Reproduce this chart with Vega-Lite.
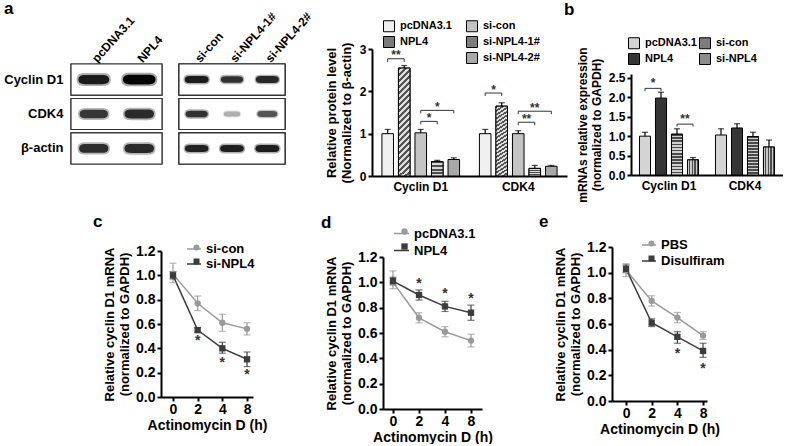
{
  "$schema": "https://vega.github.io/schema/vega-lite/v6.json",
  "background": "white",
  "padding": {"left": 3, "top": 0, "right": 0, "bottom": 0},
  "config": {
    "font": "Liberation Sans",
    "view": {"stroke": null},
    "axis": {"domainColor": "black", "domainWidth": 2, "tickColor": "black", "tickWidth": 2, "tickSize": 4, "labelFontWeight": "bold", "labelColor": "black", "titleFontWeight": "bold", "titleColor": "black", "grid": false, "labelFlush": false, "labelOverlap": false},
    "legend": {"labelFontWeight": "bold", "labelColor": "black"},
    "title": {"fontWeight": "bold", "color": "black", "fontSize": 17, "anchor": "start", "frame": "group", "baseline": "alphabetic"}
  },
  "spacing": 10,
  "resolve": {"scale": {"fill": "independent", "color": "independent", "size": "independent", "shape": "independent", "xOffset": "independent"}, "legend": {"fill": "independent", "color": "independent", "size": "independent", "shape": "independent"}},
  "vconcat": [
    {
      "bounds": "flush",
      "spacing": 0,
      "resolve": {"scale": {"fill": "independent", "color": "independent", "size": "independent", "shape": "independent", "xOffset": "independent"}, "legend": {"fill": "independent", "color": "independent", "size": "independent", "shape": "independent"}},
      "hconcat": [
        {
          "width": 91, "height": 115,
          "data": {"values": [
            {"protein": "Cyclin D1", "lane": "pcDNA3.1", "intensity": 0.82},
            {"protein": "Cyclin D1", "lane": "NPL4", "intensity": 1.0},
            {"protein": "CDK4", "lane": "pcDNA3.1", "intensity": 0.58},
            {"protein": "CDK4", "lane": "NPL4", "intensity": 0.68},
            {"protein": "β-actin", "lane": "pcDNA3.1", "intensity": 0.66},
            {"protein": "β-actin", "lane": "NPL4", "intensity": 0.68}
          ]},
          "encoding": {
            "y": {"field": "protein", "type": "nominal", "sort": ["Cyclin D1", "CDK4", "β-actin"], "scale": {"range": [15, 115], "paddingInner": 0.1, "paddingOuter": 0}, "axis": {"title": null, "domain": false, "ticks": false, "labelPadding": 8, "labelFontSize": 13}}
          },
          "layer": [
            {"mark": {"type": "rect", "fill": "white", "stroke": "#333333", "strokeWidth": 1.2}},
            {"mark": {"type": "point", "filled": true, "opacity": 0.35, "shape": "M-1,0 C-1,-0.3 -0.8,-0.38 -0.5,-0.38 L0.5,-0.38 C0.8,-0.38 1,-0.3 1,0 C1,0.3 0.8,0.38 0.5,0.38 L-0.5,0.38 C-0.8,0.38 -1,0.3 -1,0 Z"},
             "encoding": {
               "x": {"field": "lane", "type": "nominal", "sort": ["pcDNA3.1", "NPL4"], "scale": {"paddingInner": 0, "paddingOuter": 0}, "axis": {"orient": "top", "offset": -15, "title": null, "domain": false, "ticks": false, "labelAngle": -48, "labelAlign": "left", "labelBaseline": "middle", "labelPadding": 4, "labelFontSize": 12}},
               "size": {"field": "intensity", "type": "quantitative", "scale": {"domain": [0, 1], "range": [550, 1300]}, "legend": null},
               "color": {"field": "intensity", "type": "quantitative", "scale": {"type": "pow", "exponent": 0.5, "domain": [0, 1], "range": ["#e6e6e6", "#050505"]}, "legend": null}
             }},
            {"mark": {"type": "point", "filled": true, "opacity": 1, "shape": "M-0.9,0 C-0.9,-0.2 -0.75,-0.27 -0.5,-0.27 L0.5,-0.27 C0.75,-0.27 0.9,-0.2 0.9,0 C0.9,0.2 0.75,0.27 0.5,0.27 L-0.5,0.27 C-0.75,0.27 -0.9,0.2 -0.9,0 Z"},
             "encoding": {
               "x": {"field": "lane", "type": "nominal", "sort": ["pcDNA3.1", "NPL4"]},
               "size": {"field": "intensity", "type": "quantitative", "legend": null},
               "color": {"field": "intensity", "type": "quantitative", "legend": null}
             }}
          ]
        },
        {"width": 17, "height": 10, "data": {"values": [{}]}, "mark": {"type": "point", "opacity": 0}, "encoding": {}, "title": {"text": "a", "dx": -158, "offset": 31}},
        {
          "width": 106, "height": 115,
          "data": {"values": [
            {"protein": "Cyclin D1", "lane": "si-con", "intensity": 0.8},
            {"protein": "Cyclin D1", "lane": "si-NPL4-1#", "intensity": 0.62},
            {"protein": "Cyclin D1", "lane": "si-NPL4-2#", "intensity": 0.7},
            {"protein": "CDK4", "lane": "si-con", "intensity": 0.62},
            {"protein": "CDK4", "lane": "si-NPL4-1#", "intensity": 0.05},
            {"protein": "CDK4", "lane": "si-NPL4-2#", "intensity": 0.38},
            {"protein": "β-actin", "lane": "si-con", "intensity": 0.75},
            {"protein": "β-actin", "lane": "si-NPL4-1#", "intensity": 0.78},
            {"protein": "β-actin", "lane": "si-NPL4-2#", "intensity": 0.8}
          ]},
          "encoding": {
            "y": {"field": "protein", "type": "nominal", "sort": ["Cyclin D1", "CDK4", "β-actin"], "scale": {"range": [15, 115], "paddingInner": 0.1, "paddingOuter": 0}, "axis": null}
          },
          "layer": [
            {"mark": {"type": "rect", "fill": "white", "stroke": "#333333", "strokeWidth": 1.2}},
            {"mark": {"type": "point", "filled": true, "opacity": 0.35, "shape": "M-1,0 C-1,-0.3 -0.8,-0.38 -0.5,-0.38 L0.5,-0.38 C0.8,-0.38 1,-0.3 1,0 C1,0.3 0.8,0.38 0.5,0.38 L-0.5,0.38 C-0.8,0.38 -1,0.3 -1,0 Z"},
             "encoding": {
               "x": {"field": "lane", "type": "nominal", "sort": ["si-con", "si-NPL4-1#", "si-NPL4-2#"], "scale": {"paddingInner": 0, "paddingOuter": 0}, "axis": {"orient": "top", "offset": -15, "title": null, "domain": false, "ticks": false, "labelAngle": -48, "labelAlign": "left", "labelBaseline": "middle", "labelPadding": 4, "labelFontSize": 12}},
               "size": {"field": "intensity", "type": "quantitative", "scale": {"domain": [0, 1], "range": [300, 800]}, "legend": null},
               "color": {"field": "intensity", "type": "quantitative", "scale": {"type": "pow", "exponent": 0.5, "domain": [0, 1], "range": ["#e6e6e6", "#050505"]}, "legend": null}
             }},
            {"mark": {"type": "point", "filled": true, "opacity": 1, "shape": "M-0.9,0 C-0.9,-0.2 -0.75,-0.27 -0.5,-0.27 L0.5,-0.27 C0.75,-0.27 0.9,-0.2 0.9,0 C0.9,0.2 0.75,0.27 0.5,0.27 L-0.5,0.27 C-0.75,0.27 -0.9,0.2 -0.9,0 Z"},
             "encoding": {
               "x": {"field": "lane", "type": "nominal", "sort": ["si-con", "si-NPL4-1#", "si-NPL4-2#"]},
               "size": {"field": "intensity", "type": "quantitative", "legend": null},
               "color": {"field": "intensity", "type": "quantitative", "legend": null}
             }}
          ]
        },
        {"width": 87, "height": 10, "data": {"values": [{}]}, "mark": {"type": "point", "opacity": 0}, "encoding": {}},
        {
          "width": 195, "height": 127,
          "data": {"values": [
            {"protein": "Cyclin D1", "group": "pcDNA3.1", "mean": 1.0, "upper": 1.1},
            {"protein": "Cyclin D1", "group": "NPL4", "mean": 2.55, "upper": 2.61},
            {"protein": "Cyclin D1", "group": "si-con", "mean": 1.02, "upper": 1.1},
            {"protein": "Cyclin D1", "group": "si-NPL4-1#", "mean": 0.34, "upper": 0.37},
            {"protein": "Cyclin D1", "group": "si-NPL4-2#", "mean": 0.39, "upper": 0.43},
            {"protein": "CDK4", "group": "pcDNA3.1", "mean": 1.0, "upper": 1.1},
            {"protein": "CDK4", "group": "NPL4", "mean": 1.65, "upper": 1.73},
            {"protein": "CDK4", "group": "si-con", "mean": 1.0, "upper": 1.07},
            {"protein": "CDK4", "group": "si-NPL4-1#", "mean": 0.18, "upper": 0.25},
            {"protein": "CDK4", "group": "si-NPL4-2#", "mean": 0.23, "upper": 0.25}
          ]},
          "encoding": {
            "x": {"field": "protein", "type": "nominal", "sort": ["Cyclin D1", "CDK4"], "scale": {"paddingInner": 0, "paddingOuter": 0}, "axis": {"title": null, "labelAngle": 0, "ticks": false, "labelPadding": 5, "labelFontSize": 12}},
            "xOffset": {"field": "group", "type": "nominal", "scale": {"domain": ["pcDNA3.1", "NPL4", "si-con", "si-NPL4-1#", "si-NPL4-2#"], "paddingInner": 0.3, "paddingOuter": 0.6}}
          },
          "layer": [
            {"mark": {"type": "bar", "stroke": "black", "strokeWidth": 1},
             "encoding": {
               "y": {"field": "mean", "type": "quantitative", "scale": {"domain": [0, 3]}, "axis": {"title": ["Relative protein level", "(Normalized to  β-actin)"], "values": [0, 1, 2, 3], "format": "d", "titlePadding": 6, "labelFontSize": 12, "titleFontSize": 13}},
               "fill": {"field": "group", "type": "nominal", "scale": {"domain": ["pcDNA3.1", "NPL4", " ", "si-con", "si-NPL4-1#", "si-NPL4-2#"], "range": ["#f0f0f0", "#7a7a7a", "transparent", "#c4c4c4", "#7c7c7c", "#a8a8a8"]},
                 "legend": {"orient": "none", "legendX": 11, "legendY": -29, "title": null, "columns": 2, "symbolType": "square", "symbolSize": 121, "symbolStrokeColor": "black", "symbolStrokeWidth": 1, "labelFontSize": 11, "rowPadding": 0, "columnPadding": 12, "labelOffset": 5,
                   "encode": {"symbols": {"update": {"strokeOpacity": {"signal": "datum.value === ' ' ? 0 : 1"}}}}}}
             }},
            {"transform": [{"filter": "datum.group === 'NPL4'"}],
             "mark": {"type": "bar", "stroke": "black", "strokeWidth": 1, "fill": {"gradient": "linear", "x1": 0, "y1": 0, "x2": 0.1165, "y2": 1.094, "stops": [
               {"offset": 0, "color": "#555555"}, {"offset": 0.025, "color": "#555555"}, {"offset": 0.025, "color": "#e0e0e0"}, {"offset": 0.05, "color": "#e0e0e0"},
               {"offset": 0.05, "color": "#555555"}, {"offset": 0.075, "color": "#555555"}, {"offset": 0.075, "color": "#e0e0e0"}, {"offset": 0.1, "color": "#e0e0e0"},
               {"offset": 0.1, "color": "#555555"}, {"offset": 0.125, "color": "#555555"}, {"offset": 0.125, "color": "#e0e0e0"}, {"offset": 0.15, "color": "#e0e0e0"},
               {"offset": 0.15, "color": "#555555"}, {"offset": 0.175, "color": "#555555"}, {"offset": 0.175, "color": "#e0e0e0"}, {"offset": 0.2, "color": "#e0e0e0"},
               {"offset": 0.2, "color": "#555555"}, {"offset": 0.225, "color": "#555555"}, {"offset": 0.225, "color": "#e0e0e0"}, {"offset": 0.25, "color": "#e0e0e0"},
               {"offset": 0.25, "color": "#555555"}, {"offset": 0.275, "color": "#555555"}, {"offset": 0.275, "color": "#e0e0e0"}, {"offset": 0.3, "color": "#e0e0e0"},
               {"offset": 0.3, "color": "#555555"}, {"offset": 0.325, "color": "#555555"}, {"offset": 0.325, "color": "#e0e0e0"}, {"offset": 0.35, "color": "#e0e0e0"},
               {"offset": 0.35, "color": "#555555"}, {"offset": 0.375, "color": "#555555"}, {"offset": 0.375, "color": "#e0e0e0"}, {"offset": 0.4, "color": "#e0e0e0"},
               {"offset": 0.4, "color": "#555555"}, {"offset": 0.425, "color": "#555555"}, {"offset": 0.425, "color": "#e0e0e0"}, {"offset": 0.45, "color": "#e0e0e0"},
               {"offset": 0.45, "color": "#555555"}, {"offset": 0.475, "color": "#555555"}, {"offset": 0.475, "color": "#e0e0e0"}, {"offset": 0.5, "color": "#e0e0e0"},
               {"offset": 0.5, "color": "#555555"}, {"offset": 0.525, "color": "#555555"}, {"offset": 0.525, "color": "#e0e0e0"}, {"offset": 0.55, "color": "#e0e0e0"},
               {"offset": 0.55, "color": "#555555"}, {"offset": 0.575, "color": "#555555"}, {"offset": 0.575, "color": "#e0e0e0"}, {"offset": 0.6, "color": "#e0e0e0"},
               {"offset": 0.6, "color": "#555555"}, {"offset": 0.625, "color": "#555555"}, {"offset": 0.625, "color": "#e0e0e0"}, {"offset": 0.65, "color": "#e0e0e0"},
               {"offset": 0.65, "color": "#555555"}, {"offset": 0.675, "color": "#555555"}, {"offset": 0.675, "color": "#e0e0e0"}, {"offset": 0.7, "color": "#e0e0e0"},
               {"offset": 0.7, "color": "#555555"}, {"offset": 0.725, "color": "#555555"}, {"offset": 0.725, "color": "#e0e0e0"}, {"offset": 0.75, "color": "#e0e0e0"},
               {"offset": 0.75, "color": "#555555"}, {"offset": 0.775, "color": "#555555"}, {"offset": 0.775, "color": "#e0e0e0"}, {"offset": 0.8, "color": "#e0e0e0"},
               {"offset": 0.8, "color": "#555555"}, {"offset": 0.825, "color": "#555555"}, {"offset": 0.825, "color": "#e0e0e0"}, {"offset": 0.85, "color": "#e0e0e0"},
               {"offset": 0.85, "color": "#555555"}, {"offset": 0.875, "color": "#555555"}, {"offset": 0.875, "color": "#e0e0e0"}, {"offset": 0.9, "color": "#e0e0e0"},
               {"offset": 0.9, "color": "#555555"}, {"offset": 0.925, "color": "#555555"}, {"offset": 0.925, "color": "#e0e0e0"}, {"offset": 0.95, "color": "#e0e0e0"},
               {"offset": 0.95, "color": "#555555"}, {"offset": 0.975, "color": "#555555"}, {"offset": 0.975, "color": "#e0e0e0"}, {"offset": 1, "color": "#e0e0e0"}
             ]}},
             "encoding": {"y": {"field": "mean", "type": "quantitative", "axis": {"title": ["Relative protein level", "(Normalized to  β-actin)"], "values": [0, 1, 2, 3], "format": "d", "titlePadding": 6, "labelFontSize": 12, "titleFontSize": 13}}}},
            {"transform": [{"filter": "datum.group === 'si-NPL4-1#'"}],
             "mark": {"type": "bar", "stroke": "black", "strokeWidth": 1, "fill": {"gradient": "linear", "x1": 0, "y1": 0, "x2": 0, "y2": 1, "stops": [
               {"offset": 0, "color": "#4d4d4d"}, {"offset": 0.125, "color": "#4d4d4d"}, {"offset": 0.125, "color": "#d8d8d8"}, {"offset": 0.25, "color": "#d8d8d8"},
               {"offset": 0.25, "color": "#4d4d4d"}, {"offset": 0.375, "color": "#4d4d4d"}, {"offset": 0.375, "color": "#d8d8d8"}, {"offset": 0.5, "color": "#d8d8d8"},
               {"offset": 0.5, "color": "#4d4d4d"}, {"offset": 0.625, "color": "#4d4d4d"}, {"offset": 0.625, "color": "#d8d8d8"}, {"offset": 0.75, "color": "#d8d8d8"},
               {"offset": 0.75, "color": "#4d4d4d"}, {"offset": 0.875, "color": "#4d4d4d"}, {"offset": 0.875, "color": "#d8d8d8"}, {"offset": 1, "color": "#d8d8d8"}
             ]}},
             "encoding": {"y": {"field": "mean", "type": "quantitative", "axis": {"title": ["Relative protein level", "(Normalized to  β-actin)"], "values": [0, 1, 2, 3], "format": "d", "titlePadding": 6, "labelFontSize": 12, "titleFontSize": 13}}}},
            {"mark": {"type": "rule", "strokeWidth": 1.2, "color": "black"},
             "encoding": {"y": {"field": "mean", "type": "quantitative", "axis": {"title": ["Relative protein level", "(Normalized to  β-actin)"], "values": [0, 1, 2, 3], "format": "d", "titlePadding": 6, "labelFontSize": 12, "titleFontSize": 13}}, "y2": {"field": "upper"}}},
            {"mark": {"type": "tick", "thickness": 1.2, "size": 6, "color": "black"},
             "encoding": {"y": {"field": "upper", "type": "quantitative", "axis": {"title": ["Relative protein level", "(Normalized to  β-actin)"], "values": [0, 1, 2, 3], "format": "d", "titlePadding": 6, "labelFontSize": 12, "titleFontSize": 13}}}},
            {"data": {"values": [
              {"id": 1, "k": 0, "protein": "Cyclin D1", "group": "pcDNA3.1", "y": 2.69},
              {"id": 1, "k": 1, "protein": "Cyclin D1", "group": "pcDNA3.1", "y": 2.77},
              {"id": 1, "k": 2, "protein": "Cyclin D1", "group": "NPL4", "y": 2.77},
              {"id": 1, "k": 3, "protein": "Cyclin D1", "group": "NPL4", "y": 2.69},
              {"id": 2, "k": 0, "protein": "Cyclin D1", "group": "si-con", "y": 1.22},
              {"id": 2, "k": 1, "protein": "Cyclin D1", "group": "si-con", "y": 1.29},
              {"id": 2, "k": 2, "protein": "Cyclin D1", "group": "si-NPL4-1#", "y": 1.29},
              {"id": 2, "k": 3, "protein": "Cyclin D1", "group": "si-NPL4-1#", "y": 1.22},
              {"id": 3, "k": 0, "protein": "Cyclin D1", "group": "si-con", "y": 1.48},
              {"id": 3, "k": 1, "protein": "Cyclin D1", "group": "si-con", "y": 1.55},
              {"id": 3, "k": 2, "protein": "Cyclin D1", "group": "si-NPL4-2#", "y": 1.55},
              {"id": 3, "k": 3, "protein": "Cyclin D1", "group": "si-NPL4-2#", "y": 1.48},
              {"id": 4, "k": 0, "protein": "CDK4", "group": "pcDNA3.1", "y": 1.89},
              {"id": 4, "k": 1, "protein": "CDK4", "group": "pcDNA3.1", "y": 1.96},
              {"id": 4, "k": 2, "protein": "CDK4", "group": "NPL4", "y": 1.96},
              {"id": 4, "k": 3, "protein": "CDK4", "group": "NPL4", "y": 1.89},
              {"id": 5, "k": 0, "protein": "CDK4", "group": "si-con", "y": 1.2},
              {"id": 5, "k": 1, "protein": "CDK4", "group": "si-con", "y": 1.27},
              {"id": 5, "k": 2, "protein": "CDK4", "group": "si-NPL4-1#", "y": 1.27},
              {"id": 5, "k": 3, "protein": "CDK4", "group": "si-NPL4-1#", "y": 1.2},
              {"id": 6, "k": 0, "protein": "CDK4", "group": "si-con", "y": 1.46},
              {"id": 6, "k": 1, "protein": "CDK4", "group": "si-con", "y": 1.53},
              {"id": 6, "k": 2, "protein": "CDK4", "group": "si-NPL4-2#", "y": 1.53},
              {"id": 6, "k": 3, "protein": "CDK4", "group": "si-NPL4-2#", "y": 1.46}
            ]},
             "mark": {"type": "line", "color": "#333333", "strokeWidth": 1},
             "encoding": {"y": {"field": "y", "type": "quantitative", "axis": {"title": ["Relative protein level", "(Normalized to  β-actin)"], "values": [0, 1, 2, 3], "format": "d", "titlePadding": 6, "labelFontSize": 12, "titleFontSize": 13}}, "detail": {"field": "id", "type": "nominal"}, "order": {"field": "k", "type": "quantitative"}}},
            {"data": {"values": [
              {"protein": "Cyclin D1", "group": "pcDNA3.1", "y": 2.86, "label": "**"},
              {"protein": "Cyclin D1", "group": "si-con", "y": 1.37, "label": "*"},
              {"protein": "CDK4", "group": "pcDNA3.1", "y": 2.04, "label": "*"},
              {"protein": "CDK4", "group": "si-con", "y": 1.35, "label": "**"}
            ]},
             "mark": {"type": "text", "dx": 8.3, "fontSize": 12, "fontWeight": "bold", "color": "#333333", "baseline": "middle"},
             "encoding": {"y": {"field": "y", "type": "quantitative", "axis": {"title": ["Relative protein level", "(Normalized to  β-actin)"], "values": [0, 1, 2, 3], "format": "d", "titlePadding": 6, "labelFontSize": 12, "titleFontSize": 13}}, "text": {"field": "label"}}},
            {"data": {"values": [
              {"protein": "Cyclin D1", "group": "si-NPL4-1#", "y": 1.63, "label": "*"},
              {"protein": "CDK4", "group": "si-NPL4-1#", "y": 1.61, "label": "**"}
            ]},
             "mark": {"type": "text", "fontSize": 12, "fontWeight": "bold", "color": "#333333", "baseline": "middle"},
             "encoding": {"y": {"field": "y", "type": "quantitative", "axis": {"title": ["Relative protein level", "(Normalized to  β-actin)"], "values": [0, 1, 2, 3], "format": "d", "titlePadding": 6, "labelFontSize": 12, "titleFontSize": 13}}, "text": {"field": "label"}}}
          ]
        },
        {"width": 64, "height": 10, "data": {"values": [{}]}, "mark": {"type": "point", "opacity": 0}, "encoding": {}, "title": {"text": "b", "dx": -3, "offset": 30}},
        {
          "width": 152, "height": 126,
          "data": {"values": [
            {"protein": "Cyclin D1", "group": "pcDNA3.1", "mean": 1.0, "upper": 1.1},
            {"protein": "Cyclin D1", "group": "NPL4", "mean": 1.98, "upper": 2.13},
            {"protein": "Cyclin D1", "group": "si-con", "mean": 1.05, "upper": 1.19},
            {"protein": "Cyclin D1", "group": "si-NPL4", "mean": 0.39, "upper": 0.45},
            {"protein": "CDK4", "group": "pcDNA3.1", "mean": 1.03, "upper": 1.19},
            {"protein": "CDK4", "group": "NPL4", "mean": 1.21, "upper": 1.32},
            {"protein": "CDK4", "group": "si-con", "mean": 0.99, "upper": 1.1},
            {"protein": "CDK4", "group": "si-NPL4", "mean": 0.72, "upper": 0.9}
          ]},
          "encoding": {
            "x": {"field": "protein", "type": "nominal", "sort": ["Cyclin D1", "CDK4"], "scale": {"paddingInner": 0, "paddingOuter": 0}, "axis": {"title": null, "labelAngle": 0, "ticks": false, "labelPadding": 5, "labelFontSize": 12}},
            "xOffset": {"field": "group", "type": "nominal", "scale": {"domain": ["pcDNA3.1", "NPL4", "si-con", "si-NPL4"], "paddingInner": 0.31, "paddingOuter": 0.53}}
          },
          "layer": [
            {"mark": {"type": "bar", "stroke": "black", "strokeWidth": 1},
             "encoding": {
               "y": {"field": "mean", "type": "quantitative", "scale": {"domain": [0, 2.5], "range": [126, 25]}, "axis": {"title": ["mRNAs relative expression", "(normalized to GAPDH)"], "values": [0, 0.5, 1, 1.5, 2, 2.5], "format": ".1f", "titlePadding": 5, "labelFontSize": 12, "titleFontSize": 12}},
               "fill": {"field": "group", "type": "nominal", "scale": {"domain": ["pcDNA3.1", "NPL4", "si-con", "si-NPL4"], "range": ["#d4d4d4", "#353535", "#7d7d7d", "#8c8c8c"]},
                 "legend": {"orient": "none", "legendX": -3, "legendY": -12, "title": null, "columns": 2, "symbolType": "square", "symbolSize": 121, "symbolStrokeColor": "black", "symbolStrokeWidth": 1, "labelFontSize": 11, "rowPadding": 0, "columnPadding": 0, "labelOffset": 5}}
             }},
            {"transform": [{"filter": "datum.group === 'si-con'"}],
             "mark": {"type": "bar", "stroke": "black", "strokeWidth": 1, "fill": {"gradient": "linear", "x1": 0, "y1": 0, "x2": 0, "y2": 1, "stops": [
               {"offset": 0, "color": "#4a4a4a"}, {"offset": 0.0385, "color": "#4a4a4a"}, {"offset": 0.0385, "color": "#cfcfcf"}, {"offset": 0.0769, "color": "#cfcfcf"},
               {"offset": 0.0769, "color": "#4a4a4a"}, {"offset": 0.1154, "color": "#4a4a4a"}, {"offset": 0.1154, "color": "#cfcfcf"}, {"offset": 0.1538, "color": "#cfcfcf"},
               {"offset": 0.1538, "color": "#4a4a4a"}, {"offset": 0.1923, "color": "#4a4a4a"}, {"offset": 0.1923, "color": "#cfcfcf"}, {"offset": 0.2308, "color": "#cfcfcf"},
               {"offset": 0.2308, "color": "#4a4a4a"}, {"offset": 0.2692, "color": "#4a4a4a"}, {"offset": 0.2692, "color": "#cfcfcf"}, {"offset": 0.3077, "color": "#cfcfcf"},
               {"offset": 0.3077, "color": "#4a4a4a"}, {"offset": 0.3462, "color": "#4a4a4a"}, {"offset": 0.3462, "color": "#cfcfcf"}, {"offset": 0.3846, "color": "#cfcfcf"},
               {"offset": 0.3846, "color": "#4a4a4a"}, {"offset": 0.4231, "color": "#4a4a4a"}, {"offset": 0.4231, "color": "#cfcfcf"}, {"offset": 0.4615, "color": "#cfcfcf"},
               {"offset": 0.4615, "color": "#4a4a4a"}, {"offset": 0.5, "color": "#4a4a4a"}, {"offset": 0.5, "color": "#cfcfcf"}, {"offset": 0.5385, "color": "#cfcfcf"},
               {"offset": 0.5385, "color": "#4a4a4a"}, {"offset": 0.5769, "color": "#4a4a4a"}, {"offset": 0.5769, "color": "#cfcfcf"}, {"offset": 0.6154, "color": "#cfcfcf"},
               {"offset": 0.6154, "color": "#4a4a4a"}, {"offset": 0.6538, "color": "#4a4a4a"}, {"offset": 0.6538, "color": "#cfcfcf"}, {"offset": 0.6923, "color": "#cfcfcf"},
               {"offset": 0.6923, "color": "#4a4a4a"}, {"offset": 0.7308, "color": "#4a4a4a"}, {"offset": 0.7308, "color": "#cfcfcf"}, {"offset": 0.7692, "color": "#cfcfcf"},
               {"offset": 0.7692, "color": "#4a4a4a"}, {"offset": 0.8077, "color": "#4a4a4a"}, {"offset": 0.8077, "color": "#cfcfcf"}, {"offset": 0.8462, "color": "#cfcfcf"},
               {"offset": 0.8462, "color": "#4a4a4a"}, {"offset": 0.8846, "color": "#4a4a4a"}, {"offset": 0.8846, "color": "#cfcfcf"}, {"offset": 0.9231, "color": "#cfcfcf"},
               {"offset": 0.9231, "color": "#4a4a4a"}, {"offset": 0.9615, "color": "#4a4a4a"}, {"offset": 0.9615, "color": "#cfcfcf"}, {"offset": 1, "color": "#cfcfcf"}
             ]}},
             "encoding": {"y": {"field": "mean", "type": "quantitative", "axis": {"title": ["mRNAs relative expression", "(normalized to GAPDH)"], "values": [0, 0.5, 1, 1.5, 2, 2.5], "format": ".1f", "titlePadding": 5, "labelFontSize": 12, "titleFontSize": 12}}}},
            {"transform": [{"filter": "datum.group === 'si-NPL4'"}],
             "mark": {"type": "bar", "stroke": "black", "strokeWidth": 1, "fill": {"gradient": "linear", "x1": 0, "y1": 0, "x2": 1, "y2": 0, "stops": [
               {"offset": 0, "color": "#c8c8c8"}, {"offset": 0.125, "color": "#c8c8c8"}, {"offset": 0.125, "color": "#4d4d4d"}, {"offset": 0.25, "color": "#4d4d4d"},
               {"offset": 0.25, "color": "#c8c8c8"}, {"offset": 0.375, "color": "#c8c8c8"}, {"offset": 0.375, "color": "#4d4d4d"}, {"offset": 0.5, "color": "#4d4d4d"},
               {"offset": 0.5, "color": "#c8c8c8"}, {"offset": 0.625, "color": "#c8c8c8"}, {"offset": 0.625, "color": "#4d4d4d"}, {"offset": 0.75, "color": "#4d4d4d"},
               {"offset": 0.75, "color": "#c8c8c8"}, {"offset": 0.875, "color": "#c8c8c8"}, {"offset": 0.875, "color": "#4d4d4d"}, {"offset": 1, "color": "#4d4d4d"}
             ]}},
             "encoding": {"y": {"field": "mean", "type": "quantitative", "axis": {"title": ["mRNAs relative expression", "(normalized to GAPDH)"], "values": [0, 0.5, 1, 1.5, 2, 2.5], "format": ".1f", "titlePadding": 5, "labelFontSize": 12, "titleFontSize": 12}}}},
            {"mark": {"type": "rule", "strokeWidth": 1.2, "color": "black"},
             "encoding": {"y": {"field": "mean", "type": "quantitative", "axis": {"title": ["mRNAs relative expression", "(normalized to GAPDH)"], "values": [0, 0.5, 1, 1.5, 2, 2.5], "format": ".1f", "titlePadding": 5, "labelFontSize": 12, "titleFontSize": 12}}, "y2": {"field": "upper"}}},
            {"mark": {"type": "tick", "thickness": 1.2, "size": 6, "color": "black"},
             "encoding": {"y": {"field": "upper", "type": "quantitative", "axis": {"title": ["mRNAs relative expression", "(normalized to GAPDH)"], "values": [0, 0.5, 1, 1.5, 2, 2.5], "format": ".1f", "titlePadding": 5, "labelFontSize": 12, "titleFontSize": 12}}}},
            {"data": {"values": [
              {"id": 1, "k": 0, "protein": "Cyclin D1", "group": "pcDNA3.1", "y": 2.16},
              {"id": 1, "k": 1, "protein": "Cyclin D1", "group": "pcDNA3.1", "y": 2.23},
              {"id": 1, "k": 2, "protein": "Cyclin D1", "group": "NPL4", "y": 2.23},
              {"id": 1, "k": 3, "protein": "Cyclin D1", "group": "NPL4", "y": 2.16},
              {"id": 2, "k": 0, "protein": "Cyclin D1", "group": "si-con", "y": 1.25},
              {"id": 2, "k": 1, "protein": "Cyclin D1", "group": "si-con", "y": 1.31},
              {"id": 2, "k": 2, "protein": "Cyclin D1", "group": "si-NPL4", "y": 1.31},
              {"id": 2, "k": 3, "protein": "Cyclin D1", "group": "si-NPL4", "y": 1.25}
            ]},
             "mark": {"type": "line", "color": "#333333", "strokeWidth": 1},
             "encoding": {"y": {"field": "y", "type": "quantitative", "axis": {"title": ["mRNAs relative expression", "(normalized to GAPDH)"], "values": [0, 0.5, 1, 1.5, 2, 2.5], "format": ".1f", "titlePadding": 5, "labelFontSize": 12, "titleFontSize": 12}}, "detail": {"field": "id", "type": "nominal"}, "order": {"field": "k", "type": "quantitative"}}},
            {"data": {"values": [
              {"protein": "Cyclin D1", "group": "pcDNA3.1", "y": 2.36, "label": "*"},
              {"protein": "Cyclin D1", "group": "si-con", "y": 1.44, "label": "**"}
            ]},
             "mark": {"type": "text", "dx": 8, "fontSize": 12, "fontWeight": "bold", "color": "#333333", "baseline": "middle"},
             "encoding": {"y": {"field": "y", "type": "quantitative", "axis": {"title": ["mRNAs relative expression", "(normalized to GAPDH)"], "values": [0, 0.5, 1, 1.5, 2, 2.5], "format": ".1f", "titlePadding": 5, "labelFontSize": 12, "titleFontSize": 12}}, "text": {"field": "label"}}}
          ]
        }
      ]
    },
    {
      "bounds": "flush",
      "spacing": 0,
      "resolve": {"scale": {"fill": "independent", "color": "independent", "size": "independent", "shape": "independent", "xOffset": "independent"}, "legend": {"fill": "independent", "color": "independent", "size": "independent", "shape": "independent"}},
      "hconcat": [
        {"width": 90, "height": 10, "data": {"values": [{}]}, "mark": {"type": "point", "opacity": 0}, "encoding": {}, "title": {"text": "c", "dx": 22, "offset": 16}},
        {
          "width": 92, "height": 150,
          "data": {"values": [
            {"t": 0, "series": "si-con", "mean": 1.01, "lo": 0.94, "hi": 1.1},
            {"t": 2, "series": "si-con", "mean": 0.77, "lo": 0.71, "hi": 0.83},
            {"t": 4, "series": "si-con", "mean": 0.61, "lo": 0.54, "hi": 0.68},
            {"t": 8, "series": "si-con", "mean": 0.56, "lo": 0.51, "hi": 0.61},
            {"t": 0, "series": "si-NPL4", "mean": 1.0, "lo": 0.97, "hi": 1.03},
            {"t": 2, "series": "si-NPL4", "mean": 0.55, "lo": 0.53, "hi": 0.57},
            {"t": 4, "series": "si-NPL4", "mean": 0.4, "lo": 0.36, "hi": 0.45},
            {"t": 8, "series": "si-NPL4", "mean": 0.31, "lo": 0.25, "hi": 0.37}
          ]},
          "encoding": {
            "x": {"field": "t", "type": "ordinal", "sort": [0, 2, 4, 8], "scale": {"type": "point", "padding": 0.364, "align": 0.667}, "axis": {"title": "Actinomycin D (h)", "labelAngle": 0, "labelFontSize": 14, "titleFontSize": 14, "titlePadding": 2, "labelPadding": 1}},
            "color": {"field": "series", "type": "nominal", "scale": {"domain": ["si-con", "si-NPL4"], "range": ["#9a9a9a", "#3c3c3c"]}, "legend": null}
          },
          "layer": [
            {"mark": {"type": "line", "strokeWidth": 1.5},
             "encoding": {
               "y": {"field": "mean", "type": "quantitative", "scale": {"domain": [0, 1.2], "range": [150, 4]}, "axis": {"title": ["Relative cyclin D1 mRNA", "(normalized to GAPDH)"], "values": [0, 0.2, 0.4, 0.6, 0.8, 1.0, 1.2], "format": ".1f", "labelFontSize": 14, "titleFontSize": 13, "titlePadding": 4}},
               "color": {"field": "series", "type": "nominal", "legend": {"orient": "none", "legendX": 25, "legendY": -6, "title": null, "symbolType": "stroke", "symbolSize": 196, "symbolStrokeWidth": 1.5, "labelFontSize": 13, "rowPadding": -4, "labelOffset": 4}}
             }},
            {"mark": {"type": "rule", "strokeWidth": 1.2},
             "encoding": {"y": {"field": "lo", "type": "quantitative", "axis": {"title": ["Relative cyclin D1 mRNA", "(normalized to GAPDH)"], "values": [0, 0.2, 0.4, 0.6, 0.8, 1.0, 1.2], "format": ".1f", "labelFontSize": 14, "titleFontSize": 13, "titlePadding": 4}}, "y2": {"field": "hi"}}},
            {"mark": {"type": "tick", "thickness": 1.2, "size": 7},
             "encoding": {"y": {"field": "lo", "type": "quantitative", "axis": {"title": ["Relative cyclin D1 mRNA", "(normalized to GAPDH)"], "values": [0, 0.2, 0.4, 0.6, 0.8, 1.0, 1.2], "format": ".1f", "labelFontSize": 14, "titleFontSize": 13, "titlePadding": 4}}}},
            {"mark": {"type": "tick", "thickness": 1.2, "size": 7},
             "encoding": {"y": {"field": "hi", "type": "quantitative", "axis": {"title": ["Relative cyclin D1 mRNA", "(normalized to GAPDH)"], "values": [0, 0.2, 0.4, 0.6, 0.8, 1.0, 1.2], "format": ".1f", "labelFontSize": 14, "titleFontSize": 13, "titlePadding": 4}}}},
            {"mark": {"type": "point", "filled": true, "opacity": 1, "size": 40},
             "encoding": {
               "y": {"field": "mean", "type": "quantitative", "axis": {"title": ["Relative cyclin D1 mRNA", "(normalized to GAPDH)"], "values": [0, 0.2, 0.4, 0.6, 0.8, 1.0, 1.2], "format": ".1f", "labelFontSize": 14, "titleFontSize": 13, "titlePadding": 4}},
               "fill": {"field": "series", "type": "nominal", "scale": {"domain": ["si-con", "si-NPL4", "_"], "range": ["#9a9a9a", "#3c3c3c", "#000000"]}, "legend": {"orient": "none", "legendX": 29, "legendY": -6, "title": null, "values": ["si-con", "si-NPL4"], "symbolSize": 36, "symbolStrokeWidth": 0, "labelFontSize": 13, "labelExpr": "''", "rowPadding": -4, "labelOffset": 8}},
               "shape": {"field": "series", "type": "nominal", "scale": {"domain": ["si-con", "si-NPL4", "_"], "range": ["circle", "square", "circle"]}, "legend": {"orient": "none", "legendX": 29, "legendY": -6, "title": null, "values": ["si-con", "si-NPL4"], "symbolSize": 36, "symbolStrokeWidth": 0, "labelFontSize": 13, "labelExpr": "''", "rowPadding": -4, "labelOffset": 8}}
             }},
            {"data": {"values": [{"t": 2, "y": 0.46}, {"t": 4, "y": 0.28}, {"t": 8, "y": 0.18}]},
             "mark": {"type": "text", "text": "*", "fontSize": 14, "fontWeight": "bold", "baseline": "middle"},
             "encoding": {"y": {"field": "y", "type": "quantitative", "axis": {"title": ["Relative cyclin D1 mRNA", "(normalized to GAPDH)"], "values": [0, 0.2, 0.4, 0.6, 0.8, 1.0, 1.2], "format": ".1f", "labelFontSize": 14, "titleFontSize": 13, "titlePadding": 4}}, "color": {"value": "#333333"}}}
          ]
        },
        {"width": 130, "height": 10, "data": {"values": [{}]}, "mark": {"type": "point", "opacity": 0}, "encoding": {}, "title": {"text": "d", "dx": 68, "offset": 15}},
        {
          "width": 99, "height": 162,
          "data": {"values": [
            {"t": 0, "series": "pcDNA3.1", "mean": 1.0, "lo": 0.95, "hi": 1.09},
            {"t": 2, "series": "pcDNA3.1", "mean": 0.72, "lo": 0.68, "hi": 0.76},
            {"t": 4, "series": "pcDNA3.1", "mean": 0.61, "lo": 0.57, "hi": 0.65},
            {"t": 8, "series": "pcDNA3.1", "mean": 0.54, "lo": 0.49, "hi": 0.59},
            {"t": 0, "series": "NPL4", "mean": 1.01, "lo": 0.98, "hi": 1.04},
            {"t": 2, "series": "NPL4", "mean": 0.9, "lo": 0.86, "hi": 0.94},
            {"t": 4, "series": "NPL4", "mean": 0.81, "lo": 0.77, "hi": 0.85},
            {"t": 8, "series": "NPL4", "mean": 0.76, "lo": 0.7, "hi": 0.82}
          ]},
          "encoding": {
            "x": {"field": "t", "type": "ordinal", "sort": [0, 2, 4, 8], "scale": {"type": "point", "padding": 0.404, "align": 0.476}, "axis": {"title": "Actinomycin D (h)", "labelAngle": 0, "labelFontSize": 14, "titleFontSize": 14, "titlePadding": 2, "labelPadding": 1}},
            "color": {"field": "series", "type": "nominal", "scale": {"domain": ["pcDNA3.1", "NPL4"], "range": ["#9a9a9a", "#3c3c3c"]}, "legend": null}
          },
          "layer": [
            {"mark": {"type": "line", "strokeWidth": 1.5},
             "encoding": {
               "y": {"field": "mean", "type": "quantitative", "scale": {"domain": [0, 1.2], "range": [162, 10]}, "axis": {"title": ["Relative cyclin D1 mRNA", "(normalized to GAPDH)"], "values": [0, 0.2, 0.4, 0.6, 0.8, 1.0, 1.2], "format": ".1f", "labelFontSize": 14, "titleFontSize": 13, "titlePadding": 4}},
               "color": {"field": "series", "type": "nominal", "legend": {"orient": "none", "legendX": 10, "legendY": -22, "title": null, "symbolType": "stroke", "symbolSize": 225, "symbolStrokeWidth": 1.5, "labelFontSize": 13, "rowPadding": 1, "labelOffset": 4}}
             }},
            {"mark": {"type": "rule", "strokeWidth": 1.2},
             "encoding": {"y": {"field": "lo", "type": "quantitative", "axis": {"title": ["Relative cyclin D1 mRNA", "(normalized to GAPDH)"], "values": [0, 0.2, 0.4, 0.6, 0.8, 1.0, 1.2], "format": ".1f", "labelFontSize": 14, "titleFontSize": 13, "titlePadding": 4}}, "y2": {"field": "hi"}}},
            {"mark": {"type": "tick", "thickness": 1.2, "size": 7},
             "encoding": {"y": {"field": "lo", "type": "quantitative", "axis": {"title": ["Relative cyclin D1 mRNA", "(normalized to GAPDH)"], "values": [0, 0.2, 0.4, 0.6, 0.8, 1.0, 1.2], "format": ".1f", "labelFontSize": 14, "titleFontSize": 13, "titlePadding": 4}}}},
            {"mark": {"type": "tick", "thickness": 1.2, "size": 7},
             "encoding": {"y": {"field": "hi", "type": "quantitative", "axis": {"title": ["Relative cyclin D1 mRNA", "(normalized to GAPDH)"], "values": [0, 0.2, 0.4, 0.6, 0.8, 1.0, 1.2], "format": ".1f", "labelFontSize": 14, "titleFontSize": 13, "titlePadding": 4}}}},
            {"mark": {"type": "point", "filled": true, "opacity": 1, "size": 40},
             "encoding": {
               "y": {"field": "mean", "type": "quantitative", "axis": {"title": ["Relative cyclin D1 mRNA", "(normalized to GAPDH)"], "values": [0, 0.2, 0.4, 0.6, 0.8, 1.0, 1.2], "format": ".1f", "labelFontSize": 14, "titleFontSize": 13, "titlePadding": 4}},
               "fill": {"field": "series", "type": "nominal", "scale": {"domain": ["pcDNA3.1", "NPL4", "_"], "range": ["#9a9a9a", "#3c3c3c", "#000000"]}, "legend": {"orient": "none", "legendX": 15, "legendY": -22, "title": null, "values": ["pcDNA3.1", "NPL4"], "symbolSize": 40, "symbolStrokeWidth": 0, "labelFontSize": 13, "labelExpr": "''", "rowPadding": 1, "labelOffset": 8}},
               "shape": {"field": "series", "type": "nominal", "scale": {"domain": ["pcDNA3.1", "NPL4", "_"], "range": ["circle", "square", "circle"]}, "legend": {"orient": "none", "legendX": 15, "legendY": -22, "title": null, "values": ["pcDNA3.1", "NPL4"], "symbolSize": 40, "symbolStrokeWidth": 0, "labelFontSize": 13, "labelExpr": "''", "rowPadding": 1, "labelOffset": 8}}
             }},
            {"data": {"values": [{"t": 2, "y": 0.99}, {"t": 4, "y": 0.91}, {"t": 8, "y": 0.87}]},
             "mark": {"type": "text", "text": "*", "fontSize": 14, "fontWeight": "bold", "baseline": "middle"},
             "encoding": {"y": {"field": "y", "type": "quantitative", "axis": {"title": ["Relative cyclin D1 mRNA", "(normalized to GAPDH)"], "values": [0, 0.2, 0.4, 0.6, 0.8, 1.0, 1.2], "format": ".1f", "labelFontSize": 14, "titleFontSize": 13, "titlePadding": 4}}, "color": {"value": "#333333"}}}
          ]
        },
        {"width": 130, "height": 10, "data": {"values": [{}]}, "mark": {"type": "point", "opacity": 0}, "encoding": {}, "title": {"text": "e", "dx": 57, "offset": 16}},
        {
          "width": 95, "height": 154,
          "data": {"values": [
            {"t": 0, "series": "PBS", "mean": 1.02, "lo": 0.97, "hi": 1.07},
            {"t": 2, "series": "PBS", "mean": 0.78, "lo": 0.74, "hi": 0.82},
            {"t": 4, "series": "PBS", "mean": 0.65, "lo": 0.61, "hi": 0.69},
            {"t": 8, "series": "PBS", "mean": 0.51, "lo": 0.48, "hi": 0.54},
            {"t": 0, "series": "Disulfiram", "mean": 1.03, "lo": 1.0, "hi": 1.06},
            {"t": 2, "series": "Disulfiram", "mean": 0.61, "lo": 0.58, "hi": 0.64},
            {"t": 4, "series": "Disulfiram", "mean": 0.5, "lo": 0.45, "hi": 0.54},
            {"t": 8, "series": "Disulfiram", "mean": 0.39, "lo": 0.34, "hi": 0.45}
          ]},
          "encoding": {
            "x": {"field": "t", "type": "ordinal", "sort": [0, 2, 4, 8], "scale": {"type": "point", "padding": 0.35, "align": 0.78}, "axis": {"title": "Actinomycin D (h)", "labelAngle": 0, "labelFontSize": 14, "titleFontSize": 14, "titlePadding": 2, "labelPadding": 1}},
            "color": {"field": "series", "type": "nominal", "scale": {"domain": ["PBS", "Disulfiram"], "range": ["#9a9a9a", "#3c3c3c"]}, "legend": null}
          },
          "layer": [
            {"mark": {"type": "line", "strokeWidth": 1.5},
             "encoding": {
               "y": {"field": "mean", "type": "quantitative", "scale": {"domain": [0, 1.2]}, "axis": {"title": ["Relative cyclin D1 mRNA", "(normalized to GAPDH)"], "values": [0, 0.2, 0.4, 0.6, 0.8, 1.0, 1.2], "format": ".1f", "labelFontSize": 14, "titleFontSize": 13, "titlePadding": 4}},
               "color": {"field": "series", "type": "nominal", "legend": {"orient": "none", "legendX": 29, "legendY": -10, "title": null, "symbolType": "stroke", "symbolSize": 196, "symbolStrokeWidth": 1.5, "labelFontSize": 13, "rowPadding": 1, "labelOffset": 4}}
             }},
            {"mark": {"type": "rule", "strokeWidth": 1.2},
             "encoding": {"y": {"field": "lo", "type": "quantitative", "axis": {"title": ["Relative cyclin D1 mRNA", "(normalized to GAPDH)"], "values": [0, 0.2, 0.4, 0.6, 0.8, 1.0, 1.2], "format": ".1f", "labelFontSize": 14, "titleFontSize": 13, "titlePadding": 4}}, "y2": {"field": "hi"}}},
            {"mark": {"type": "tick", "thickness": 1.2, "size": 7},
             "encoding": {"y": {"field": "lo", "type": "quantitative", "axis": {"title": ["Relative cyclin D1 mRNA", "(normalized to GAPDH)"], "values": [0, 0.2, 0.4, 0.6, 0.8, 1.0, 1.2], "format": ".1f", "labelFontSize": 14, "titleFontSize": 13, "titlePadding": 4}}}},
            {"mark": {"type": "tick", "thickness": 1.2, "size": 7},
             "encoding": {"y": {"field": "hi", "type": "quantitative", "axis": {"title": ["Relative cyclin D1 mRNA", "(normalized to GAPDH)"], "values": [0, 0.2, 0.4, 0.6, 0.8, 1.0, 1.2], "format": ".1f", "labelFontSize": 14, "titleFontSize": 13, "titlePadding": 4}}}},
            {"mark": {"type": "point", "filled": true, "opacity": 1, "size": 40},
             "encoding": {
               "y": {"field": "mean", "type": "quantitative", "axis": {"title": ["Relative cyclin D1 mRNA", "(normalized to GAPDH)"], "values": [0, 0.2, 0.4, 0.6, 0.8, 1.0, 1.2], "format": ".1f", "labelFontSize": 14, "titleFontSize": 13, "titlePadding": 4}},
               "fill": {"field": "series", "type": "nominal", "scale": {"domain": ["PBS", "Disulfiram", "_"], "range": ["#9a9a9a", "#3c3c3c", "#000000"]}, "legend": {"orient": "none", "legendX": 33, "legendY": -10, "title": null, "values": ["PBS", "Disulfiram"], "symbolSize": 36, "symbolStrokeWidth": 0, "labelFontSize": 13, "labelExpr": "''", "rowPadding": 1, "labelOffset": 8}},
               "shape": {"field": "series", "type": "nominal", "scale": {"domain": ["PBS", "Disulfiram", "_"], "range": ["circle", "square", "circle"]}, "legend": {"orient": "none", "legendX": 33, "legendY": -10, "title": null, "values": ["PBS", "Disulfiram"], "symbolSize": 36, "symbolStrokeWidth": 0, "labelFontSize": 13, "labelExpr": "''", "rowPadding": 1, "labelOffset": 8}}
             }},
            {"data": {"values": [{"t": 4, "y": 0.37}, {"t": 8, "y": 0.25}]},
             "mark": {"type": "text", "text": "*", "fontSize": 14, "fontWeight": "bold", "baseline": "middle"},
             "encoding": {"y": {"field": "y", "type": "quantitative", "axis": {"title": ["Relative cyclin D1 mRNA", "(normalized to GAPDH)"], "values": [0, 0.2, 0.4, 0.6, 0.8, 1.0, 1.2], "format": ".1f", "labelFontSize": 14, "titleFontSize": 13, "titlePadding": 4}}, "color": {"value": "#333333"}}}
          ]
        }
      ]
    }
  ]
}
